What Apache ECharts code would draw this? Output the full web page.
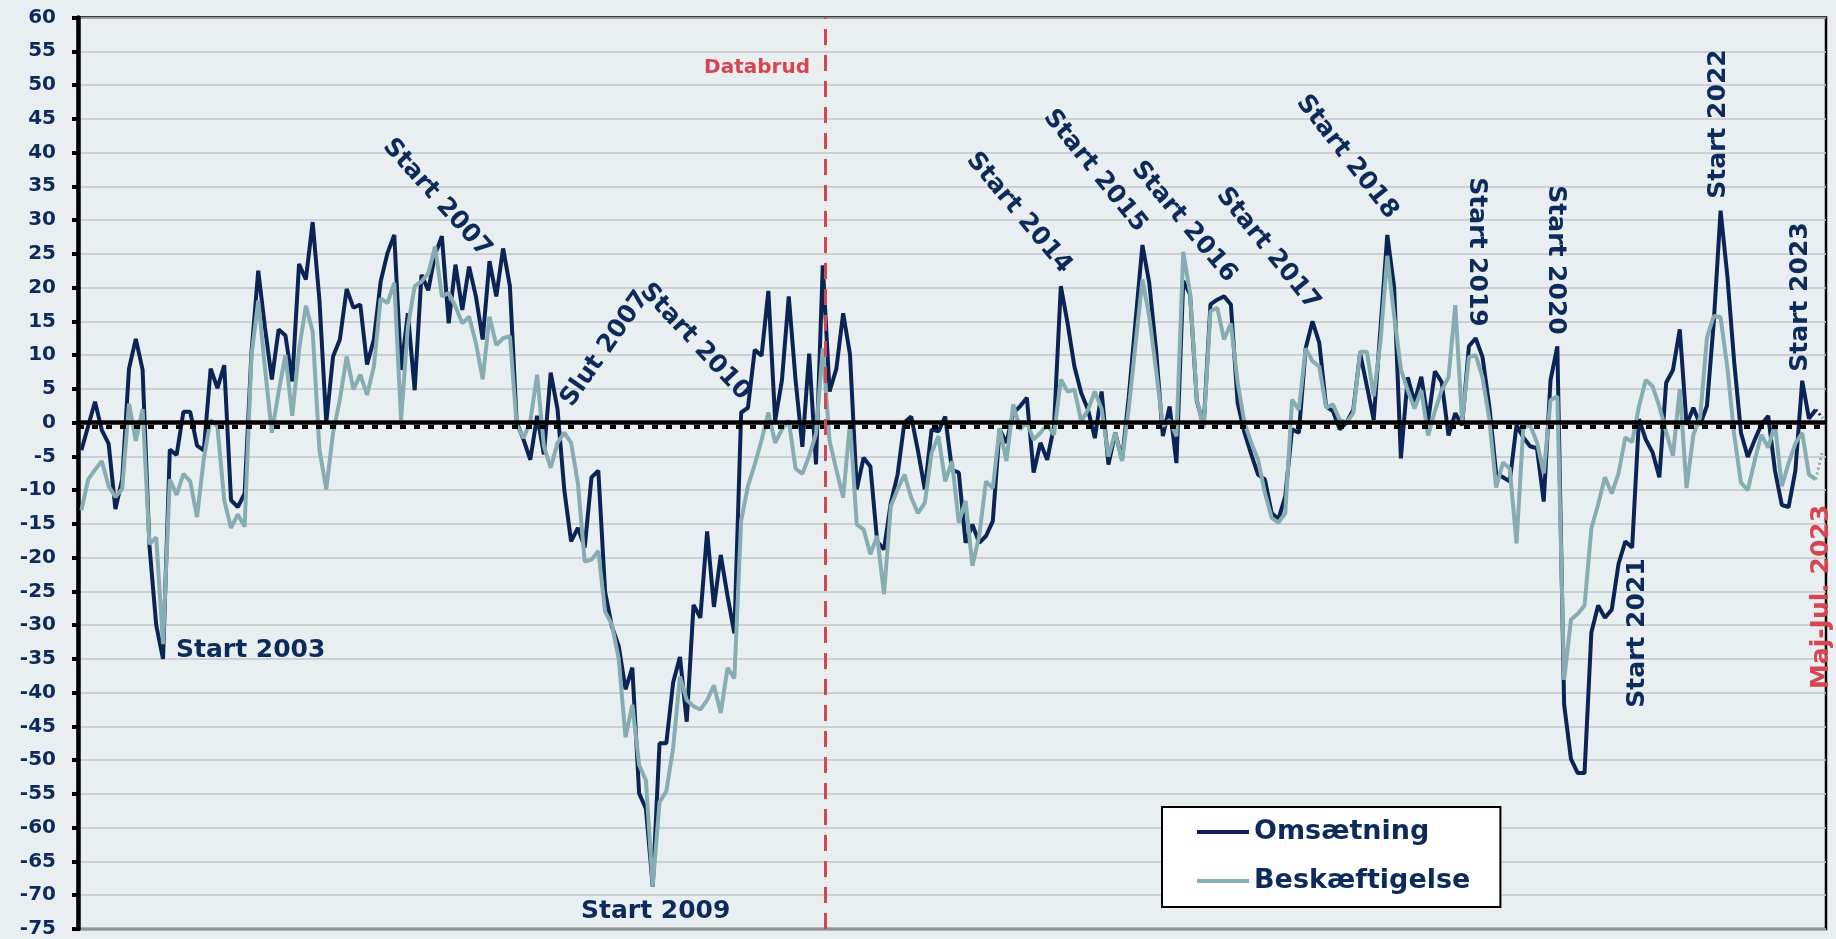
<!DOCTYPE html>
<html><head><meta charset="utf-8">
<script src="https://cdn.jsdelivr.net/npm/echarts@6/dist/echarts.min.js"></script>
<style>html,body{margin:0;padding:0;background:#e9eff0;}#c{width:1836px;height:939px;}</style>
</head><body><div id="c"></div>
<script>
// Monthly observations, Mar 2002 .. Jul 2023 (last point = Maj-Jul. 2023)
const omsaetning = [
-4.1, -0.5, 3.1, -1.1, -3.1, -12.8, -8.4, 8, 12.4, 7.8,
-18.2, -30, -35, -4, -4.8, 1.6, 1.6, -3.4, -4.1, 8,
5.1, 8.5, -11.5, -12.5, -10.5, 10.3, 22.5, 14, 6.4, 13.8,
12.9, 6.1, 23.5, 21.2, 29.7, 18.1, 0, 9.8, 12.3, 19.8,
17, 17.5, 8.6, 12.3, 20.9, 25.1, 27.8, 7.8, 16.2, 4.8,
21.9, 19.6, 24.9, 27.6, 14.7, 23.4, 16.7, 23.1, 18.7, 12.3,
23.9, 18.7, 25.8, 20.2, 0, -2.5, -5.5, 1, -4.7, 7.4,
2, -10, -17.6, -15.6, -18.5, -8.1, -7.1, -25.1, -30.2, -33.1,
-39.5, -36.3, -54.9, -57.2, -68.7, -47.5, -47.5, -38.5, -34.7, -44.3,
-27, -28.9, -16.1, -27.3, -19.6, -25.7, -31.2, 1.5, 2.2, 10.8,
9.9, 19.5, 0.3, 6.3, 18.7, 6.3, -3.6, 10.2, -6.2, 23.3,
4.6, 8, 16.2, 10.1, -9.9, -5.2, -6.5, -17.6, -18.8, -11.9,
-7.7, 0, 0.9, -4.2, -9.9, -1, -1.3, 0.9, -7, -7.4,
-17.8, -15.1, -17.8, -16.8, -14.6, -1, -3, 1.4, 2.4, 3.7,
-7.4, -3, -5.5, -0.5, 20.2, 14.7, 8.3, 4.4, 1.9, -2.3,
4.6, -6.2, -1.5, -5.5, 3.9, 15.2, 26.3, 20.7, 10.8, -2,
2.4, -6, 21, 19, 3.2, -0.5, 17.5, 18.2, 18.7, 17.5,
2.9, -1.5, -4.7, -7.7, -8.4, -13.4, -14.3, -10.9, -1, -1.5,
11, 15, 11.8, 2.4, 1.7, -1, 0, 1.9, 10.3, 5.4,
0.4, 14, 27.8, 20.1, -5.3, 6.7, 3, 6.8, 0.2, 7.6,
6, -1.9, 1.4, -0.4, 11.3, 12.5, 9.7, 2.4, -7.5, -8.1,
-8.7, -0.4, -2.2, -3.5, -3.8, -11.7, 6.3, 11.3, -41.8, -49.8,
-51.9, -51.9, -31.1, -27.1, -28.9, -27.7, -20.9, -17.6, -18.5, 0.5,
-2.5, -4.4, -8.1, 5.9, 7.8, 13.8, -0.3, 2.2, -0.3, 2.5,
14.9, 31.4, 21.7, 9, -1.5, -5.1, -2.6, -0.3, 1, -7.1,
-12.2, -12.5, -7.1, 6.2, 0.6, 1.9, 0.7
];
const beskaeftigelse = [
-13, -8.4, -7, -5.7, -9.4, -11, -9.8, 2.8, -2.7, 2,
-18, -17, -32.8, -8.4, -10.7, -7.6, -8.7, -14, -5.3, 0.4,
-0.6, -11.5, -15.6, -13.6, -15.4, 9.8, 18.1, 8, -1.5, 4.6,
10, 1, 10.8, 17.3, 13.5, -4, -9.9, -1.5, 3.4, 9.8,
4.9, 7.1, 4.1, 8.3, 18.4, 17.7, 20.7, 0.4, 14.2, 20.2,
20.9, 22.1, 26.1, 18.7, 19.2, 17.2, 14.7, 15.7, 11.8, 6.4,
15.7, 11.5, 12.5, 12.8, -0.3, -2.3, 0.2, 7.1, -3.5, -6.7,
-3, -1.5, -3, -9, -20.6, -20.3, -19, -28, -29.9, -35,
-46.6, -41.8, -50.7, -53, -68.7, -56.2, -54.6, -48.2, -37.6, -41.1,
-42, -42.5, -41.1, -38.9, -43, -36.3, -37.9, -14.5, -9.4, -6.2,
-2.6, 1.5, -3, -1, 0.3, -6.8, -7.6, -4.9, -1.7, 11,
-2.7, -7, -11.1, 0, -15.1, -15.8, -19.5, -16.8, -25.4, -12.4,
-9.9, -7.7, -11.1, -13.4, -11.9, -4.5, -2, -8.7, -5.7, -14.8,
-11.6, -21.2, -16.8, -8.7, -9.7, -0.8, -5.7, 2.7, -1, 0,
-2.5, -1.5, -0.3, -1.8, 6.4, 4.6, 4.9, 0.2, 1.9, 4.6,
2, -5, -1.5, -5.7, 2.2, 11.8, 21.2, 15.7, 7.8, -0.5,
0.4, -2, 25.3, 19.2, 3.4, -0.8, 16.5, 17, 12.3, 14.7,
5.9, 0, -3, -5.5, -10.4, -14.1, -14.8, -13.4, 3.4, 1.9,
11, 9.1, 8.3, 2.2, 2.7, 0.4, 0, 1.4, 10.5, 10.5,
3.9, 12, 24.7, 15.9, 7.9, 4.8, 2.1, 4.8, -1.9, 1.7,
4.8, 6.7, 17.4, 0, 9.7, 10, 6.7, 0.5, -9.6, -5.9,
-6.8, -17.9, -0.7, -0.4, -2.9, -7.5, 3.3, 3.9, -38.1, -29.2,
-28.3, -27.1, -15.7, -12.1, -8.1, -10.5, -7.5, -2.2, -2.9, 2.4,
6.3, 5.4, 2.4, -1.4, -4.9, 5, -9.7, -1.8, 0.8, 12.6,
15.8, 15.6, 8.1, -1.8, -8.9, -10, -5.7, -1.8, -3.7, -0.3,
-9.4, -6, -3.1, -1.5, -7.7, -8.4, -4.2
];
const seriesNames = ['Omsætning', 'Beskæftigelse'];
const yMin = -75, yMax = 60, yStep = 5;
const zeroLine = 0, averageLine = -0.55;
const databrudPosition = 109.35; // category position of the data break
const startYear = 2002, startMonth = 3;

const categories = omsaetning.map((_, i) => {
  const m = startMonth - 1 + i;
  return (startYear + Math.floor(m / 12)) + '-' + String(m % 12 + 1).padStart(2, '0');
});

const NAVY = '#0a2456', TEAL = '#86adb2', TEXT = '#0d2a5c', RED = '#d64550';
const FONT = "'DejaVu Sans', sans-serif";
const n = omsaetning.length;
const solidPart = arr => arr.map((v, i) => i < n - 1 ? v : null);
const dotPart = arr => arr.map((v, i) => i >= n - 2 ? v : null);

const annotations = [
  {t: 'Start 2003', x: 176, y: 650, r: 0, a: 'left'},
  {t: 'Start 2009', x: 581, y: 911, r: 0, a: 'left'},
  {t: 'Start 2007', x: 437, y: 198, r: -48, a: 'center'},
  {t: 'Slut 2007', x: 605, y: 349, r: 55, a: 'center'},
  {t: 'Start 2010', x: 695, y: 342, r: -47, a: 'center'},
  {t: 'Start 2014', x: 1019, y: 213, r: -50, a: 'center'},
  {t: 'Start 2015', x: 1095, y: 171, r: -51, a: 'center'},
  {t: 'Start 2016', x: 1184, y: 222, r: -50, a: 'center'},
  {t: 'Start 2017', x: 1268, y: 249, r: -51, a: 'center'},
  {t: 'Start 2018', x: 1347, y: 157, r: -52, a: 'center'},
  {t: 'Start 2019', x: 1476, y: 252, r: -90, a: 'center'},
  {t: 'Start 2020', x: 1555, y: 260, r: -90, a: 'center'},
  {t: 'Start 2021', x: 1637, y: 633, r: 90, a: 'center'},
  {t: 'Start 2022', x: 1718, y: 124, r: 90, a: 'center'},
  {t: 'Start 2023', x: 1800, y: 297, r: 90, a: 'center'},
  {t: 'Maj-Jul. 2023', x: 1821, y: 597, r: 90, a: 'center', c: RED}
];

const graphics = annotations.map(o => ({
  type: 'text', x: o.x, y: o.y, rotation: o.r * Math.PI / 180, z: 50,
  style: {text: o.t, x: 0, y: 0, fill: o.c || TEXT, font: 'bold 25px ' + FONT,
          textAlign: o.a, textVerticalAlign: 'middle', align: o.a, verticalAlign: 'middle'}
}));
graphics.push({type: 'text', x: 810, y: 68, z: 50,
  style: {text: 'Databrud', x: 0, y: 0, fill: RED, font: 'bold 20px ' + FONT,
          textAlign: 'right', textVerticalAlign: 'middle', align: 'right', verticalAlign: 'middle'}});

const chart = echarts.init(document.getElementById('c'), null, {width: 1836, height: 939});
chart.setOption({
  animation: false,
  backgroundColor: '#e9eff0',
  grid: {left: 78, right: 10, top: 17.5, bottom: 8, show: true, borderColor: '#000', borderWidth: 2.5, backgroundColor: 'transparent'},
  xAxis: [
    {type: 'category', data: categories, boundaryGap: true, axisLine: {show: false}, axisTick: {show: false}, axisLabel: {show: false}, splitLine: {show: false}},
    {type: 'value', min: -0.5, max: n - 0.5, show: false}
  ],
  yAxis: {
    type: 'value', min: yMin, max: yMax, interval: yStep,
    axisLine: {show: true, onZero: false, lineStyle: {color: '#000', width: 4.5}},
    axisTick: {show: true, length: 6, lineStyle: {color: '#000', width: 4}},
    axisLabel: {color: TEXT, fontFamily: FONT, fontWeight: 'bold', fontSize: 20, margin: 22},
    splitLine: {show: true, lineStyle: {color: '#c2c6c8', width: 1.5}}
  },
  legend: {
    orient: 'vertical', left: 1162, top: 807,
    padding: [10, 30, 11, 35], itemGap: 19, itemWidth: 52, itemHeight: 4, itemTextGap: 5,
    backgroundColor: '#fff', borderColor: '#000', borderWidth: 2,
    textStyle: {fontFamily: FONT, fontWeight: 'bold', fontSize: 27, color: TEXT, lineHeight: 30},
    data: [{name: seriesNames[0], icon: 'rect'}, {name: seriesNames[1], icon: 'rect'}]
  },
  graphic: graphics,
  series: [
    {type: 'line', data: omsaetning.map(() => null), z: 1, silent: true,
     markLine: {silent: true, symbol: 'none', label: {show: false}, animation: false,
       data: [
         {yAxis: averageLine, lineStyle: {color: '#000', width: 4, type: [6, 8]}},
         {yAxis: zeroLine, lineStyle: {color: '#000', width: 4.5, type: 'solid'}}
       ]}},
    {type: 'line', xAxisIndex: 1, data: [], z: 1, silent: true,
     markLine: {silent: true, symbol: 'none', label: {show: false}, animation: false,
       data: [{xAxis: databrudPosition, lineStyle: {color: RED, width: 3, type: [16, 10]}}]}},
    {name: seriesNames[0], type: 'line', data: solidPart(omsaetning), symbol: 'none', z: 3,
     lineStyle: {color: NAVY, width: 4}, itemStyle: {color: NAVY}},
    {name: seriesNames[1], type: 'line', data: solidPart(beskaeftigelse), symbol: 'none', z: 4,
     lineStyle: {color: TEAL, width: 4}, itemStyle: {color: TEAL}},
    {name: seriesNames[0] + ' ', type: 'line', data: dotPart(omsaetning), symbol: 'none', z: 3,
     lineStyle: {color: NAVY, width: 3, type: [2, 3]}, itemStyle: {color: NAVY}},
    {name: seriesNames[1] + ' ', type: 'line', data: dotPart(beskaeftigelse), symbol: 'none', z: 4,
     lineStyle: {color: TEAL, width: 3, type: [2, 3]}, itemStyle: {color: TEAL}}
  ]
});
</script>
</body></html>
